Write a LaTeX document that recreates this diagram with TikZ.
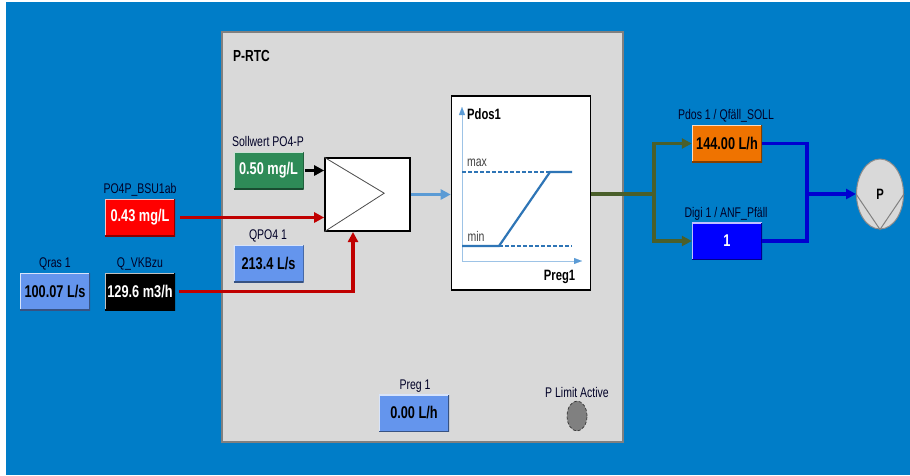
\documentclass[tikz,border=0pt]{standalone}
\usepackage{fontspec}
\setmainfont{Liberation Sans}[FakeStretch=0.75]
\usepackage{xcolor}
\usetikzlibrary{arrows.meta,shapes.geometric}

\definecolor{bgblue}{RGB}{0,125,200}
\definecolor{panelgray}{RGB}{217,217,217}
\definecolor{lightbox}{RGB}{100,149,237}
\definecolor{greenbox}{RGB}{46,139,87}
\definecolor{orangebox}{RGB}{239,115,0}
\definecolor{oliveline}{RGB}{74,95,42}
\definecolor{redline}{RGB}{192,0,0}
\definecolor{blueline}{RGB}{0,0,208}
\definecolor{skyline}{RGB}{91,155,213}
\definecolor{axisblue}{RGB}{157,195,230}
\definecolor{curveblue}{RGB}{46,117,182}

\tikzset{
    readout/.style={minimum width=70pt, minimum height=37pt, inner sep=0pt, font=\fontsize{17}{17}\selectfont\bfseries,
        path picture={
            \draw[white!75!#1, line width=2pt] (path picture bounding box.south west) |- (path picture bounding box.north east);
            \draw[black!45!#1, line width=2pt] (path picture bounding box.south west) -| (path picture bounding box.north east);
        }, fill=#1},
    tag/.style={inner sep=0pt, font=\fontsize{14}{15}\selectfont, text=black!85!blue},
    headline/.style={inner sep=0pt, font=\fontsize{15}{15}\selectfont\bfseries, text=black},
    wire/.style={line width=3.2pt, -{Triangle[length=10pt, width=10pt]}},
    plain wire/.style={line width=3.2pt},
    guide/.style={curveblue, line width=1.6pt, dash pattern=on 4pt off 2pt},
}

\begin{document}
\begin{tikzpicture}[x=1pt, y=-1pt]
    \useasboundingbox (0,0) rectangle (910,475);
    \fill[white] (0,0) rectangle (910,475);
    \fill[bgblue] (6,2) rectangle (910,475);

    \node[draw=black!50, line width=1.2pt, fill=panelgray, minimum width=401pt, minimum height=410pt, inner sep=0pt] (panel) at (422.5,237) {};
    \node[headline, font=\fontsize{16}{16}\selectfont\bfseries] (title) at (251.5,56) {P-RTC};

    % inputs
    \node[readout=lightbox] (qras) at (55,291.5) {100.07 L/s};
    \node[tag] (qraslabel) at (55,264) {Qras 1};
    \node[readout=black, text=white] (vkbzu) at (140,291.5) {129.6 m3/h};
    \node[tag] (vkbzulabel) at (140,264) {Q\_VKBzu};
    \node[readout=red, text=white] (bsu) at (140,217.5) {0.43 mg/L};
    \node[tag] (bsulabel) at (140,190) {PO4P\_BSU1ab};
    \node[readout=greenbox, text=white] (sollwert) at (268.5,170.5) {0.50 mg/L};
    \node[tag] (sollwertlabel) at (268,141) {Sollwert PO4-P};
    \node[readout=lightbox] (qpo) at (268.5,263.5) {213.4 L/s};
    \node[tag] (qpolabel) at (268,236) {QPO4 1};

    % comparator
    \node[draw=black, line width=1.6pt, fill=white, minimum width=85pt, minimum height=73pt, inner sep=0pt] (comparator) at (367.5,194.5) {};
    \draw[black!70, line width=.8pt] (comparator.north west) -- ++(60,36) coordinate (apex) -- (comparator.south west);
    \coordinate (qin) at (353,232);

    % characteristic curve
    \node[draw=black, line width=1.6pt, fill=white, minimum width=139pt, minimum height=194pt, inner sep=0pt] (chart) at (521,193) {};
    \coordinate (origin) at (462,261);
    \coordinate (minstart) at (462,246);
    \coordinate (minknee) at (499,246);
    \coordinate (minend) at (572,246);
    \coordinate (maxstart) at (462,172);
    \coordinate (maxknee) at (550,172);
    \coordinate (maxend) at (572,172);
    \draw[axisblue, line width=1pt] (origin) -- (462,112);
    \draw[axisblue, line width=1pt] (origin) -- (576,261);
    \draw[skyline, -{Triangle[length=8pt, width=6pt]}, line width=.1pt] (462,112) -- (462,107);
    \draw[skyline, -{Triangle[length=8pt, width=6pt]}, line width=.1pt] (576,261) -- (582,261);
    \draw[guide] (maxstart) -- (maxknee);
    \draw[guide] (minknee) -- (minend);
    \draw[curveblue, line width=2.2pt] (minstart) -- (minknee) -- (maxknee) -- (maxend);
    \node[headline] (pdoslabel) at (484,114) {Pdos1};
    \node[tag, text=black!75] (maxlabel) at (477,163) {max};
    \node[tag, text=black!75] (minlabel) at (476,236) {min};
    \node[headline] (preglabel) at (559.5,277) {Preg1};

    % outputs
    \node[readout=orangebox] (soll) at (727,143.5) {144.00 L/h};
    \node[tag] (solllabel) at (726,116) {Pdos 1 / Qfäll\_SOLL};
    \node[readout=blue, text=white] (anf) at (727,241) {1};
    \node[tag] (anflabel) at (726,214) {Digi 1 / ANF\_Pfäll};
    \node[draw=black!45, line width=1pt, fill=panelgray, ellipse, minimum width=47pt, minimum height=70pt, inner sep=0pt, font=\fontsize{15}{15}\selectfont\bfseries] (pump) at (880,194) {P};
    \draw[black!50, line width=1pt] (pump.west) -- (pump.south) -- (pump.east);
    \coordinate (split) at (654,194);
    \coordinate (merge) at (807,194);

    % preg and limit
    \node[readout=lightbox] (preg) at (414,413) {0.00 L/h};
    \node[tag] (preglabeltwo) at (415,386) {Preg 1};
    \node[tag] (limitlabel) at (577,392) {P Limit Active};
    \node[draw=black!80, densely dashed, line width=.7pt, fill=black!50, ellipse, minimum width=20pt, minimum height=30pt, inner sep=0pt] (limit) at (577,416) {};

    % connectors
    \draw[wire, black] ([xshift=1pt]sollwert.east) -- (comparator.west |- sollwert.east);
    \draw[wire, redline] ([xshift=5pt]bsu.east) -- (comparator.west |- bsu.east);
    \draw[wire, redline] ([xshift=4pt]vkbzu.east) -| (qin);
    \draw[wire, skyline] (comparator.east) -- (chart.west |- comparator.east);
    \draw[plain wire, oliveline] (chart.east |- split) -- (split);
    \draw[wire, oliveline] (split) |- (soll.west);
    \draw[wire, oliveline] (split) |- (anf.west);
    \draw[plain wire, blueline] (soll.east) -| (merge);
    \draw[plain wire, blueline] (anf.east) -| (merge);
    \draw[wire, blueline] (merge) -- (pump.west);
\end{tikzpicture}
\end{document}
